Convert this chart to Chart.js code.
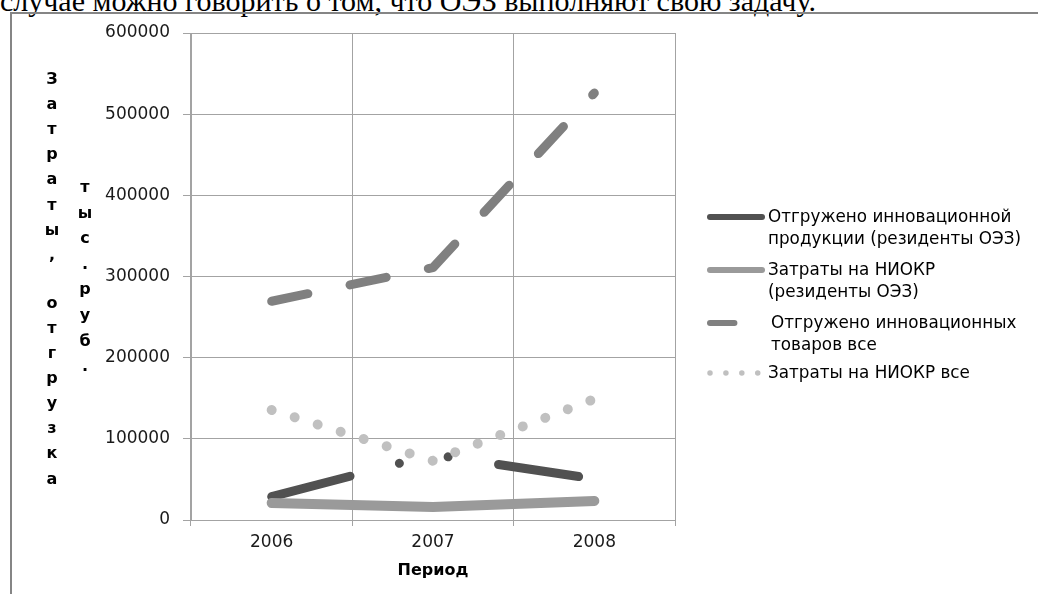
<!DOCTYPE html>
<html lang="ru">
<head>
    <meta charset="UTF-8">
    <title>Затраты и отгрузка</title>
    <script src="https://cdn.jsdelivr.net/npm/chart.js"></script>
    <style>
        body { margin: 0; background: #fff; }
        .page { position: relative; width: 1038px; height: 594px; overflow: hidden; }
        .caption {
            position: absolute; left: 0px; top: -14px; white-space: nowrap;
            font-family: "Liberation Serif", "Times New Roman", serif;
            font-size: 30px; line-height: 30px; color: #000;
        }
        .frame {
            position: absolute; left: 10px; top: 12px; width: 2000px; height: 2000px;
            border-left: 2px solid #858585; border-top: 2px solid #858585;
        }
        #chart { position: absolute; left: 0; top: 0; }
    </style>
</head>
<body>
<div class="page">
    <div class="caption">случае можно говорить о том, что ОЭЗ выполняют свою задачу.</div>
    <div class="frame"></div>
    <canvas id="chart" width="1038" height="594"></canvas>
</div>

<script>
    // data
    const categories = ['2006', '2007', '2008'];
    const shippedResidents = [28700, 80600, 50600];   // Отгружено инновационной продукции (резиденты ОЭЗ)
    const rndResidents = [21000, 16000, 23500];       // Затраты на НИОКР (резиденты ОЭЗ)
    const shippedAll = [269500, 311000, 526000];      // Отгружено инновационных товаров все
    const rndAll = [135500, 73000, 149000];           // Затраты на НИОКР все
    const yTicks = [0, 100000, 200000, 300000, 400000, 500000, 600000];

    const legendLines = [
        ['Отгружено инновационной', 'продукции (резиденты ОЭЗ)'],
        ['Затраты на НИОКР', '(резиденты ОЭЗ)'],
        ['Отгружено инновационных', 'товаров все'],
        ['Затраты на НИОКР все']
    ];
    const yTitle = ['Затраты, отгрузка', 'тыс. руб.'];
    const xTitle = 'Период';

    const gridColor = '#a3a3a3';
    const tickFont = { family: '"DejaVu Sans", sans-serif', size: 17 };

    // vertical stacked axis title + legend on the right
    const extras = {
        id: 'extras',
        afterDraw(chart) {
            const ctx = chart.ctx;
            ctx.save();
            ctx.fillStyle = '#000';
            ctx.textAlign = 'center';
            ctx.textBaseline = 'alphabetic';
            ctx.font = 'bold 16px "DejaVu Sans", sans-serif';
            const cols = [
                { x: 52, y: 84, step: 25.1, space: 23 },
                { x: 85, y: 192, step: 25.6, space: 0 }
            ];
            yTitle.forEach((txt, c) => {
                let y = cols[c].y;
                for (const ch of txt) {
                    if (ch === ' ') { y += cols[c].space; continue; }
                    ctx.fillText(ch, cols[c].x, y);
                    y += cols[c].step;
                }
            });

            // legend
            const sx0 = 710, sx1 = 762, tx = 768;
            const itemY = [217, 270, 323, 373];
            ctx.textAlign = 'left';
            ctx.textBaseline = 'middle';
            ctx.font = '16.8px "DejaVu Sans", sans-serif';
            chart.data.datasets.forEach((ds, i) => {
                const y = itemY[i];
                ctx.save();
                ctx.strokeStyle = ds.borderColor;
                ctx.lineCap = 'round';
                ctx.lineWidth = ds.legendWidth;
                ctx.setLineDash((ds.borderDash || []).map(v => v * 0.66));
                ctx.beginPath();
                ctx.moveTo(sx0, y);
                ctx.lineTo(sx1, y);
                ctx.stroke();
                ctx.restore();
                legendLines[i].forEach((t, k) => {
                    ctx.fillText(t, tx + (i === 2 ? 3 : 0), y + 1 + k * 22);
                });
            });
            ctx.restore();
        }
    };

    new Chart(document.getElementById('chart'), {
        type: 'line',
        data: {
            labels: categories,
            datasets: [
                {
                    label: 'Отгружено инновационной продукции (резиденты ОЭЗ)',
                    data: shippedResidents,
                    borderColor: '#515151',
                    borderWidth: 9,
                    borderDash: [81, 51, 0.01, 50, 0.01, 51],
                    legendWidth: 6,
                    order: 4
                },
                {
                    label: 'Затраты на НИОКР (резиденты ОЭЗ)',
                    data: rndResidents,
                    borderColor: '#9a9a9a',
                    borderWidth: 10,
                    legendWidth: 6,
                    order: 3
                },
                {
                    label: 'Отгружено инновационных товаров все',
                    data: shippedAll,
                    borderColor: '#808080',
                    borderWidth: 9,
                    borderDash: [37, 43],
                    legendWidth: 6,
                    order: 2
                },
                {
                    label: 'Затраты на НИОКР все',
                    data: rndAll,
                    borderColor: '#c0c0c0',
                    borderWidth: 10,
                    borderDash: [0.01, 24.1],
                    legendWidth: 5.5,
                    order: 1
                }
            ]
        },
        options: {
            responsive: false,
            animation: false,
            layout: { padding: { top: 33, right: 363, left: 0, bottom: 0 } },
            elements: {
                point: { radius: 0, hoverRadius: 0 },
                line: { tension: 0, borderCapStyle: 'round', borderJoinStyle: 'round', fill: false }
            },
            plugins: {
                legend: { display: false },
                tooltip: { enabled: false }
            },
            scales: {
                x: {
                    offset: true,
                    grid: { offset: true, color: gridColor, tickLength: 6 },
                    border: { color: gridColor },
                    ticks: { font: tickFont, color: '#1a1a1a', padding: 6 },
                    title: {
                        display: true, text: xTitle, color: '#000',
                        font: { family: '"DejaVu Sans", sans-serif', size: 16, weight: 'bold' },
                        padding: { top: 0, bottom: 14 }
                    },
                    afterFit: s => { s.height = 74; }
                },
                y: {
                    min: 0,
                    max: 600000,
                    grid: { color: gridColor, tickLength: 8 },
                    border: { color: gridColor },
                    ticks: {
                        font: tickFont, color: '#1a1a1a', padding: 13, stepSize: 100000,
                        callback: v => String(v)
                    },
                    afterBuildTicks: s => { s.ticks = yTicks.map(v => ({ value: v })); },
                    afterFit: s => { s.width = 191; }
                }
            }
        },
        plugins: [extras]
    });
</script>
</body>
</html>
